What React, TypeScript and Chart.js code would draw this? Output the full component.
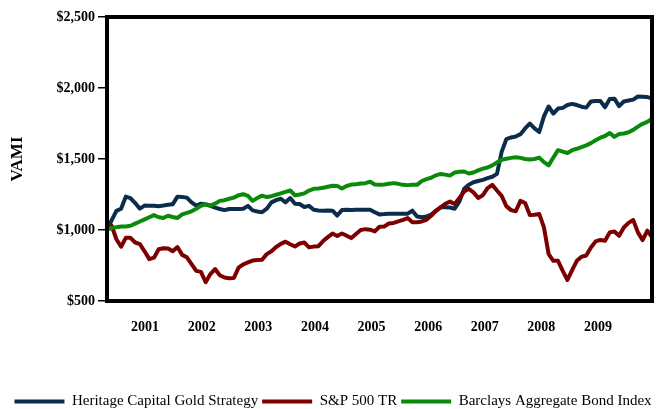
import { useEffect, useRef } from "react";
import { Chart, registerables } from "chart.js";

Chart.register(...registerables);

// Monthly VAMI values (growth of $1,000), one point per month
const heritage = [
  1000, 1070, 1135, 1150, 1235, 1225, 1190, 1150, 1172, 1170,
  1170, 1168, 1172, 1178, 1182, 1235, 1232, 1228, 1195, 1172,
  1185, 1180, 1170, 1158, 1148, 1140, 1148, 1148, 1148, 1150,
  1170, 1138, 1130, 1125, 1150, 1195, 1210, 1220, 1195, 1225,
  1185, 1183, 1162, 1170, 1142, 1138, 1136, 1138, 1136, 1102,
  1140, 1142, 1140, 1142, 1143, 1142, 1142, 1125, 1110, 1112,
  1115, 1115, 1115, 1114, 1115, 1136, 1095, 1090, 1095, 1108,
  1135, 1160, 1160, 1158, 1150, 1200, 1290, 1318, 1336, 1345,
  1353, 1365, 1375, 1395, 1550, 1640, 1652, 1658, 1675, 1715,
  1750, 1715, 1690, 1800, 1870, 1820, 1855, 1860, 1880, 1888,
  1880, 1868, 1862, 1905, 1908, 1908, 1865, 1922, 1925, 1872,
  1905, 1912, 1918, 1940, 1938, 1936, 1928,
];

const sp500 = [
  1000, 1030, 935, 882, 945, 945, 912, 900, 850, 795,
  805, 865, 872, 870, 850, 880, 825, 808, 760, 712,
  705, 632, 690, 725, 682, 665, 660, 662, 735, 758,
  772, 785, 788, 790, 830, 850, 880, 902, 918, 900,
  884, 905, 912, 878, 883, 886, 922, 950, 975, 958,
  975, 960, 943, 972, 1000, 1006, 1002, 990, 1023, 1025,
  1046, 1050, 1061, 1072, 1084, 1055, 1055, 1060, 1072, 1100,
  1135, 1160, 1185, 1200, 1183, 1225, 1270, 1290, 1265, 1226,
  1245, 1295, 1318, 1278, 1240, 1168, 1140, 1132, 1205, 1190,
  1106, 1108, 1113, 1018, 830, 783, 783, 712, 648, 717,
  783, 812, 820, 877, 920, 930, 924, 983, 990, 959,
  1018, 1050, 1070, 983, 929, 995, 950,
];

const barclays = [
  1000, 1015, 1020, 1025, 1025, 1030, 1045, 1060, 1075, 1090,
  1105, 1090, 1085, 1100, 1092, 1085, 1110, 1120, 1132, 1150,
  1170, 1182, 1172, 1185, 1205, 1210, 1220, 1228, 1245, 1252,
  1240, 1205, 1225, 1242, 1232, 1238, 1248, 1258, 1268, 1278,
  1245, 1250, 1258, 1278, 1290, 1292, 1298, 1305, 1312, 1310,
  1292, 1310, 1320, 1322, 1328, 1330, 1340, 1320, 1318, 1320,
  1325, 1330, 1325, 1318, 1316, 1318, 1318, 1345, 1358, 1368,
  1385, 1395, 1390, 1383, 1405, 1410, 1412, 1398, 1405, 1420,
  1432, 1440, 1455, 1475, 1495, 1502, 1508, 1512, 1508, 1500,
  1496, 1500, 1510, 1478, 1455, 1510, 1562, 1552, 1542, 1562,
  1572, 1584, 1596, 1612, 1632, 1650, 1662, 1683, 1656, 1676,
  1680, 1688, 1705, 1728, 1748, 1762, 1784,
];

const seriesNames = [
  "Heritage Capital Gold Strategy",
  "S&P 500 TR",
  "Barclays Aggregate Bond Index",
];
const seriesColors = ["#0c2c4c", "#7d0000", "#0a8a0a"];

const xTickLabels = ["2001", "2002", "2003", "2004", "2005", "2006", "2007", "2008", "2009"];
const xTickPositions = [8.1, 20.15, 32.2, 44.25, 56.3, 68.35, 80.4, 92.45, 104.5];

const yMin = 500;
const yMax = 2500;
const yStep = 500;

const FONT = "'Liberation Serif', 'Times New Roman', serif";

const framePlugin = {
  id: "frame",
  afterLayout(chart: any) {
    // nudge the legend row to the right to match the reference placement
    if (chart.legend) {
      chart.legend.left += 7;
      chart.legend.right += 7;
    }
  },
  afterDatasetsDraw(chart: any) {
    const { ctx, chartArea } = chart;
    ctx.save();
    ctx.strokeStyle = "#000";
    ctx.lineWidth = 4;
    ctx.strokeRect(
      chartArea.left,
      chartArea.top,
      chartArea.right - chartArea.left,
      chartArea.bottom - chartArea.top
    );
    ctx.restore();
  },
};

export default function App() {
  const canvasRef = useRef<HTMLCanvasElement | null>(null);

  useEffect(() => {
    if (!canvasRef.current) return;
    const all = [heritage, sp500, barclays];
    const chart = new Chart(canvasRef.current, {
      type: "line",
      data: {
        datasets: all.map((vals, si) => ({
          label: seriesNames[si],
          data: vals.map((v, i) => ({ x: i, y: v })),
          borderColor: seriesColors[si],
          backgroundColor: seriesColors[si],
          borderWidth: 4,
          pointRadius: 0,
          tension: 0,
          borderJoinStyle: "round" as const,
          borderCapStyle: "round" as const,
          order: 2 - si,
        })),
      },
      options: {
        animation: false,
        responsive: true,
        maintainAspectRatio: false,
        layout: { padding: { left: 0, right: 6, top: 17, bottom: -10 } },
        plugins: {
          tooltip: { enabled: false },
          legend: {
            position: "bottom",
            labels: {
              boxWidth: 50,
              boxHeight: 4,
              padding: 4,
              color: "#000",
              font: { family: FONT, size: 15 },
              sort: (a: any, b: any) => a.datasetIndex - b.datasetIndex,
              generateLabels: (c: any) =>
                Chart.defaults.plugins.legend.labels
                  .generateLabels(c)
                  .map((it: any) => ({ ...it, lineWidth: 0, fillStyle: it.strokeStyle })),
            },
          },
        },
        scales: {
          x: {
            type: "linear",
            min: 0,
            max: heritage.length - 1,
            grid: { display: false },
            border: { display: false },
            afterBuildTicks: (scale: any) => {
              scale.ticks = xTickPositions.map((v) => ({ value: v }));
            },
            afterFit: (scale: any) => {
              scale.height = 89;
            },
            ticks: {
              autoSkip: false,
              maxRotation: 0,
              padding: 10,
              color: "#000",
              font: { family: FONT, size: 14, weight: "bold" },
              callback: (val: any) => {
                const i = xTickPositions.indexOf(Number(val));
                return i >= 0 ? xTickLabels[i] : "";
              },
            },
          },
          y: {
            type: "linear",
            min: yMin,
            max: yMax,
            grid: {
              display: true,
              drawOnChartArea: false,
              drawTicks: true,
              tickLength: 9,
              color: "#000",
              lineWidth: 1.5,
            },
            border: { display: false },
            afterFit: (scale: any) => {
              scale.width = 107;
            },
            title: {
              display: true,
              text: "VAMI",
              color: "#000",
              font: { family: FONT, size: 17, weight: "bold" },
              padding: { top: 7, bottom: 0 },
            },
            ticks: {
              stepSize: yStep,
              padding: 3,
              color: "#000",
              font: { family: FONT, size: 14, weight: "bold" },
              callback: (val: any) => "$" + Number(val).toLocaleString("en-US"),
            },
          },
        },
      },
      plugins: [framePlugin],
    });
    return () => chart.destroy();
  }, []);

  return (
    <div
      style={{
        position: "absolute",
        left: 0,
        top: 0,
        width: 658,
        height: 409,
        background: "#fff",
      }}
    >
      <canvas ref={canvasRef} />
    </div>
  );
}
